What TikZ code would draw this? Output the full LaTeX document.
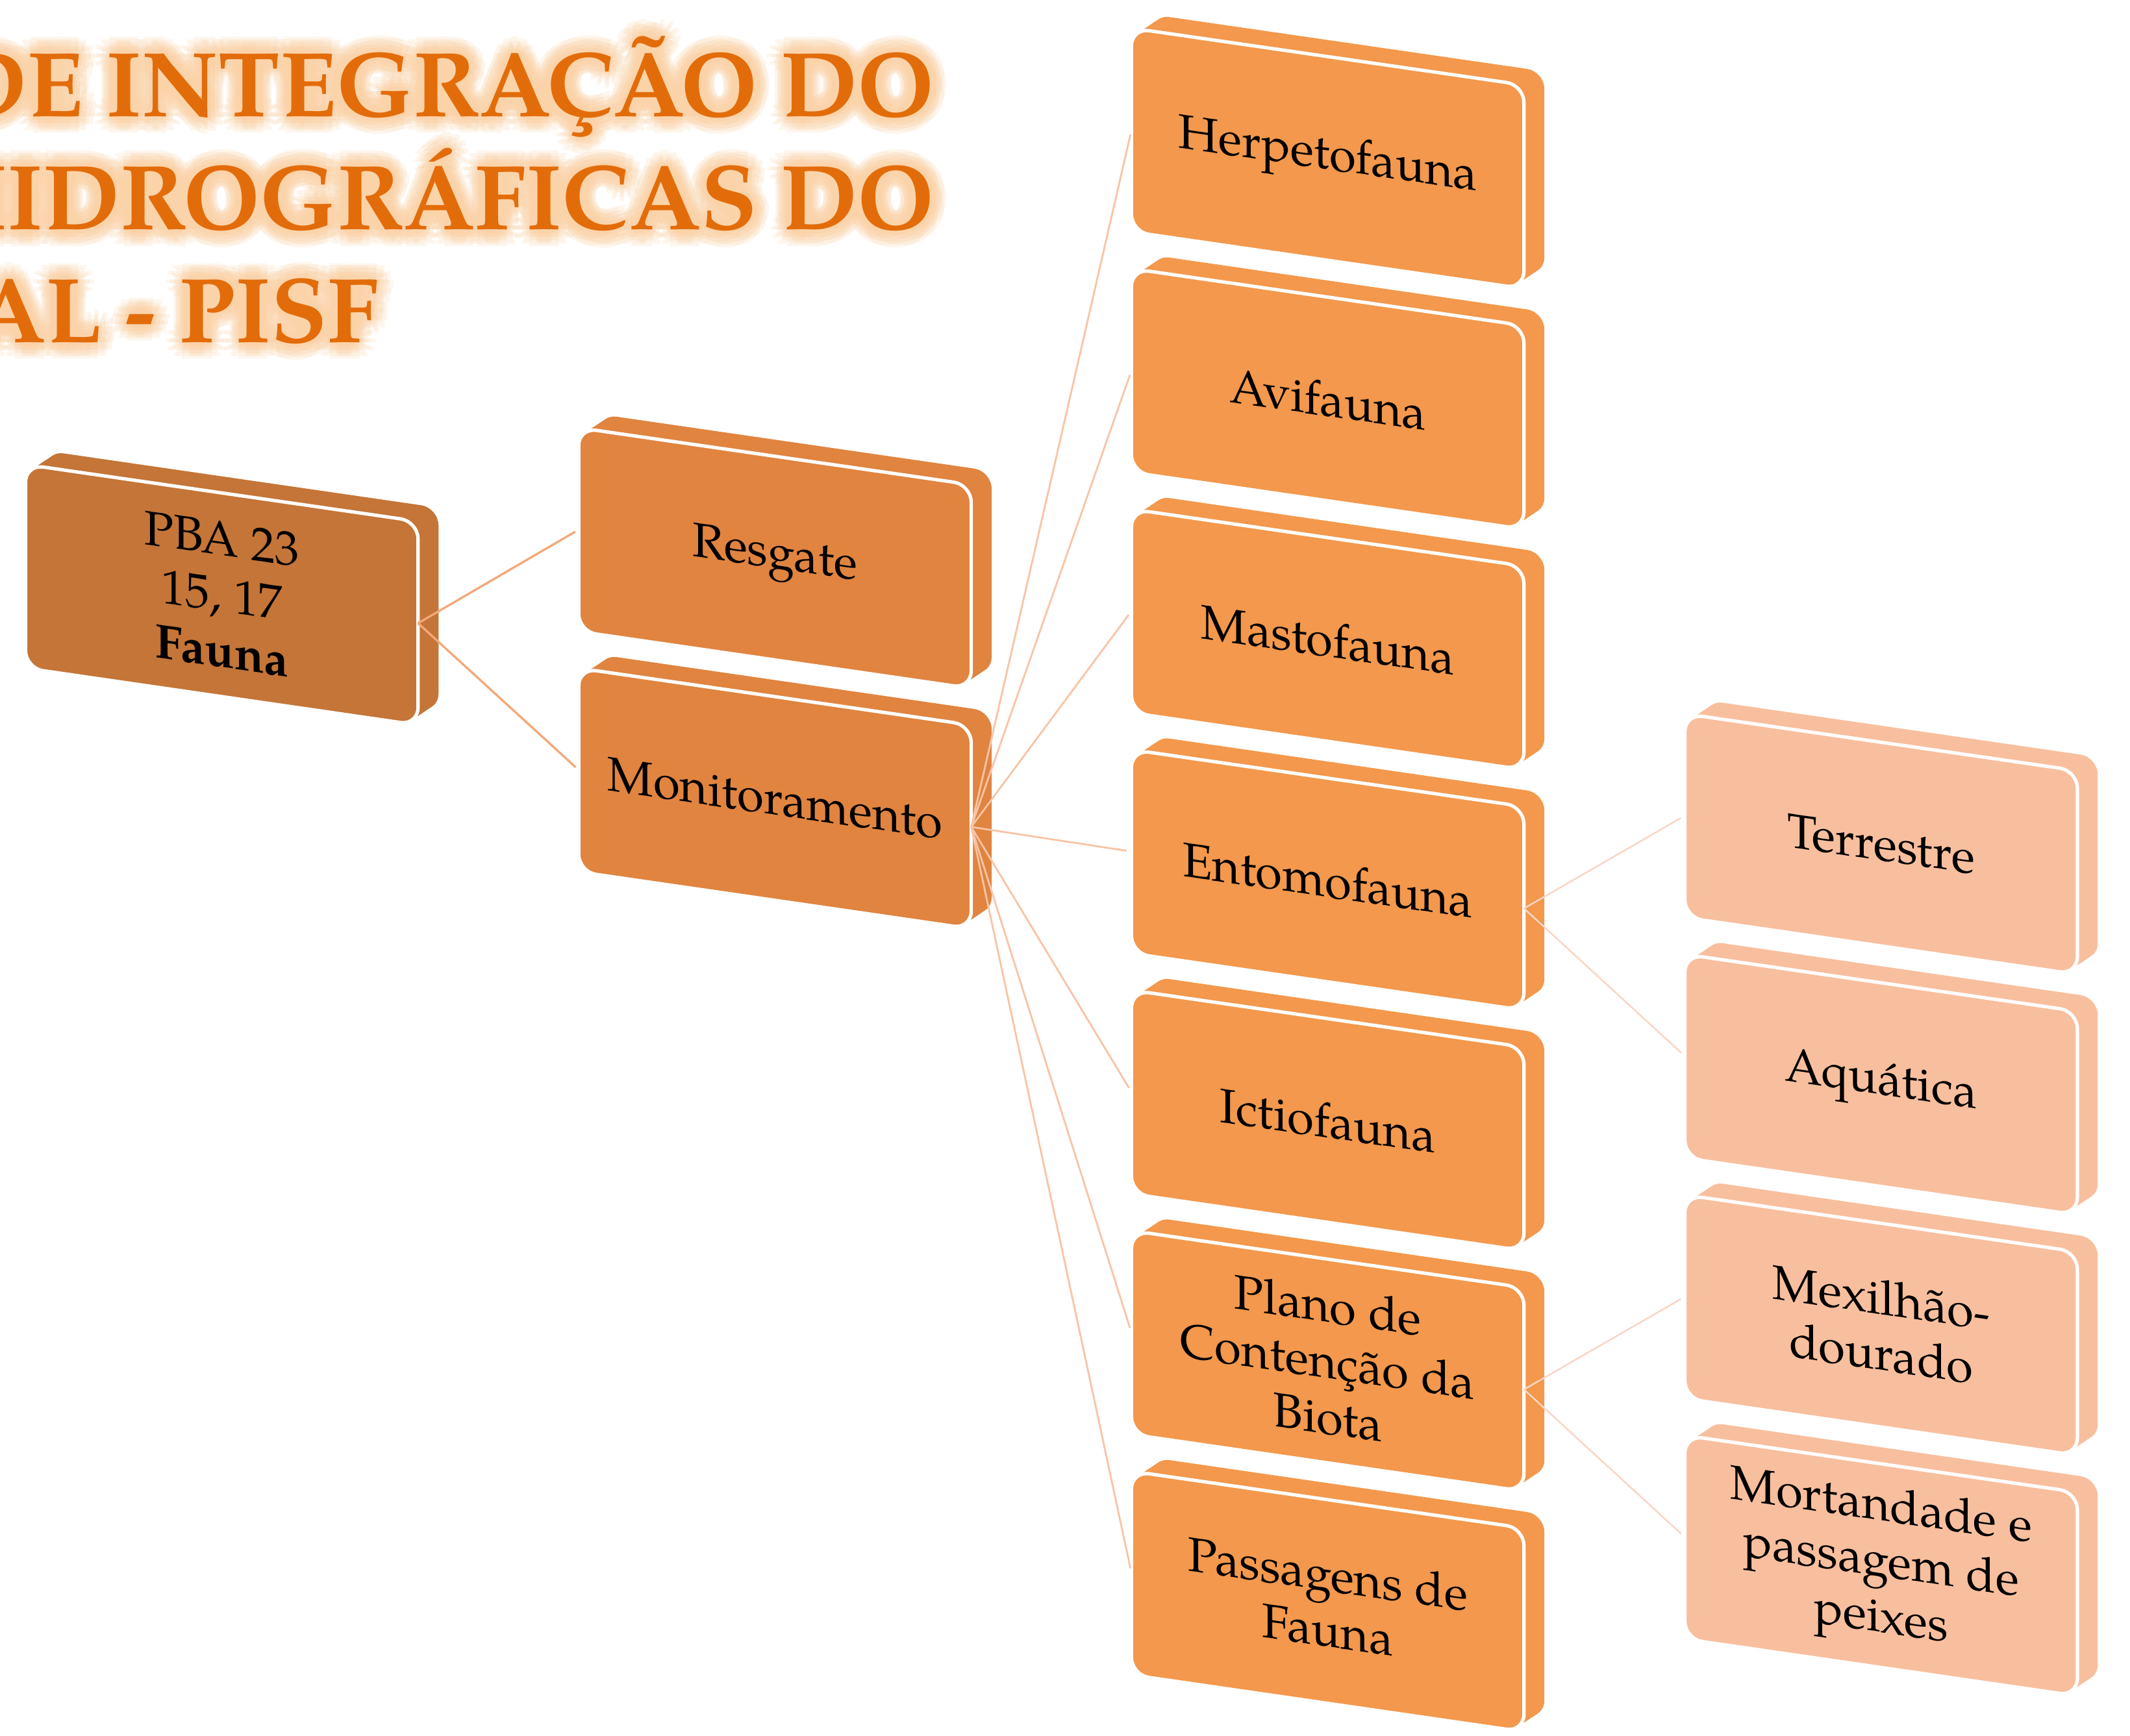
\documentclass[tikz,border=0pt]{standalone}
\usepackage{fontspec}
\setmainfont{TeX Gyre Pagella}
\usetikzlibrary{calc}
\definecolor{rootc}{HTML}{C47537}
\definecolor{lvla}{HTML}{E08440}
\definecolor{lvlb}{HTML}{F3984C}
\definecolor{lvlc}{HTML}{F8BF9E}
\definecolor{linea}{HTML}{F4A878}
\definecolor{lineb}{HTML}{F8C4A5}
\definecolor{linec}{HTML}{F9D6C4}
\definecolor{titlec}{HTML}{E36C0A}
\definecolor{glowc}{HTML}{FBD3A8}
\tikzset{
  cardface/.style={draw=white, line width=0.05cm, rounded corners=0.26cm,
    minimum width=5.78cm, minimum height=3cm, inner sep=0pt, outer sep=0pt,
    transform shape, align=center, text=black,
    font=\fontsize{20.3}{23.4}\selectfont},
  cardback/.style={rounded corners=0.26cm},
  conna/.style={draw=linea, line width=0.032cm, shorten >=0.06cm},
  connb/.style={draw=lineb, line width=0.027cm, shorten >=0.07cm},
  connc/.style={draw=linec, line width=0.024cm, shorten >=0.07cm},
  titletext/.style={anchor=base east, inner sep=0pt, text=titlec,
    font=\fontsize{38.6}{40}\selectfont\bfseries},
  titleglow/.style={titletext, text=glowc, opacity=0.2},
}
\newcommand\card[5]{%
  \begin{scope}[shift={(#2,#3)}, yslant=-0.145]
    \foreach \t in {0,1,...,10}
      \fill[#4, cardback] (\t*1.5,-\t*1.22) -- ++(289,0) -- ++(0,150) -- ++(-289,0) -- cycle;
    \node[cardface, fill=#4] (#1) at (144.5,75) {#5};
  \end{scope}}
\newcommand\titleline[3]{%
  \foreach \a in {0,30,...,330}
    \foreach \r in {3,6,9,12}
      \node[titleglow] at ([shift={(\a:\r)}]#1,#2) {#3};
  \node[titletext] at (#1,#2) {#3};}
\begin{document}
\begin{tikzpicture}[x=0.02cm, y=-0.02cm]
  \useasboundingbox (0,0) rectangle (1568,1278);
  \clip (0,0) rectangle (1568,1278);
  \fill[white] (0,0) rectangle (1568,1278);
  % title
  \titleline{688}{85.6}{DE INTEGRAÇÃO DO}
  \titleline{688}{169.2}{HIDROGRÁFICAS DO}
  \titleline{279}{252}{AL - PISF}
  % cards
  \card{root}{18.8}{342}{rootc}{PBA 23\\15, 17\\\textbf{Fauna}}
  \card{resg}{426}{315}{lvla}{Resgate}
  \card{moni}{426}{492}{lvla}{Monitoramento}
  \card{herp}{832.9}{20.7}{lvlb}{Herpetofauna}
  \card{avif}{832.9}{197.8}{lvlb}{Avifauna}
  \card{mast}{832.9}{374.9}{lvlb}{Mastofauna}
  \card{ento}{832.9}{552}{lvlb}{Entomofauna}
  \card{icti}{832.9}{729.1}{lvlb}{Ictiofauna}
  \card{plan}{832.9}{906.2}{lvlb}{Plano de\\Contenção da\\Biota}
  \card{pass}{832.9}{1083.3}{lvlb}{Passagens de\\Fauna}
  \card{terr}{1240.3}{525.6}{lvlc}{Terrestre}
  \card{aqua}{1240.3}{702.7}{lvlc}{Aquática}
  \card{mexi}{1240.3}{879.8}{lvlc}{Mexilhão-\\dourado}
  \card{mort}{1240.3}{1056.9}{lvlc}{Mortandade e\\passagem de\\peixes}
  % connectors
  \draw[conna] (root.east) -- (resg.west);
  \draw[conna] (root.east) -- (moni.west);
  \foreach \n in {herp,avif,mast,ento,icti,plan,pass}
    \draw[connb] (moni.east) -- (\n.west);
  \draw[connc] (ento.east) -- (terr.west);
  \draw[connc] (ento.east) -- (aqua.west);
  \draw[connc] (plan.east) -- (mexi.west);
  \draw[connc] (plan.east) -- (mort.west);
\end{tikzpicture}
\end{document}
